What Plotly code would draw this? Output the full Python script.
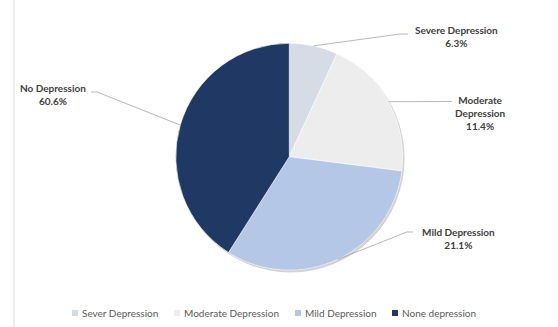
import math
import plotly.graph_objects as go

# ---- data ----
categories = ["Sever Depression", "Moderate Depression", "Mild Depression", "None depression"]
slice_values = [6.9, 20.1, 32.0, 41.0]          # slice sizes as drawn
label_texts = ["Severe Depression<br>6.3%", "Moderate<br>Depression<br>11.4%",
               "Mild Depression<br>21.1%", "No Depression<br>60.6%"]
colors = ["#D6DCE5", "#EDEDED", "#B4C7E7", "#203864"]

W, H = 558, 327
cx, cy, r = 289.3, 156.7, 113.5   # pixel geometry of the pie

def px(x):
    return x / W

def py(y):
    return 1 - y / H

fig = go.Figure(go.Pie(
    labels=categories, values=slice_values, sort=False, direction="clockwise",
    rotation=0, textinfo="none", hoverinfo="label+percent", showlegend=False,
    marker=dict(colors=colors, line=dict(color="#FFFFFF", width=0.6)),
    domain=dict(x=[px(cx - r), px(cx + r)], y=[py(cy + r), py(cy - r)]),
))

shapes = []
annotations = []

# soft shadow behind the pie
shapes.append(dict(type="circle", xref="paper", yref="paper", layer="below",
                   x0=px(cx - r + 1), x1=px(cx + r + 1.8), y0=py(cy + r + 2.2), y1=py(cy - r + 1),
                   fillcolor="rgba(0,0,0,0.18)", line=dict(width=0)))

# label positions (pixel) : text centre, elbow point, end of horizontal segment
label_pos = [
    dict(tx=456, ty=36, elbow=(400, 34), end=(408, 34)),
    dict(tx=480, ty=113, elbow=(452, 101.5), end=(452, 101.5)),
    dict(tx=458, ty=238, elbow=(407, 232), end=(413, 232)),
    dict(tx=53, ty=94, elbow=(97, 92), end=(91, 92)),
]

total = sum(slice_values)
acc = 0
for v, txt, lp in zip(slice_values, label_texts, label_pos):
    mid = (acc + v / 2) / total * 2 * math.pi
    acc += v
    sx = cx + r * math.sin(mid)
    sy = cy - r * math.cos(mid)
    ex, ey = lp["elbow"]
    fx, fy = lp["end"]
    path = f"M {px(sx)},{py(sy)} L {px(ex)},{py(ey)} L {px(fx)},{py(fy)}"
    shapes.append(dict(type="path", xref="paper", yref="paper", path=path,
                       line=dict(color="#A6A6A6", width=0.8)))
    annotations.append(dict(x=px(lp["tx"]), y=py(lp["ty"]), xref="paper", yref="paper",
                            text=f"<b>{txt}</b>", showarrow=False, align="center",
                            xanchor="center", yanchor="middle",
                            font=dict(family="Lato", size=10, color="#404040")))

# custom legend (compact, like the reference)
legend_x = [72, 174, 295, 392]
legend_y = 313
for name, col, lx in zip(categories, colors, legend_x):
    shapes.append(dict(type="rect", xref="paper", yref="paper",
                       x0=px(lx), x1=px(lx + 6), y0=py(legend_y + 3), y1=py(legend_y - 3),
                       fillcolor=col, line=dict(width=0)))
    annotations.append(dict(x=px(lx + 8), y=py(legend_y), xref="paper", yref="paper",
                            text=name, showarrow=False, xanchor="left", yanchor="middle",
                            font=dict(family="Lato", size=10, color="#595959")))

# left border line of the chart area
shapes.append(dict(type="line", xref="paper", yref="paper", x0=px(14), x1=px(14), y0=0, y1=1,
                   line=dict(color="#D9D9D9", width=1)))

fig.update_layout(
    width=W, height=H, margin=dict(l=0, r=0, t=0, b=0),
    paper_bgcolor="white", plot_bgcolor="white",
    shapes=shapes, annotations=annotations,
    showlegend=False,
)

fig.write_html("out.html")
